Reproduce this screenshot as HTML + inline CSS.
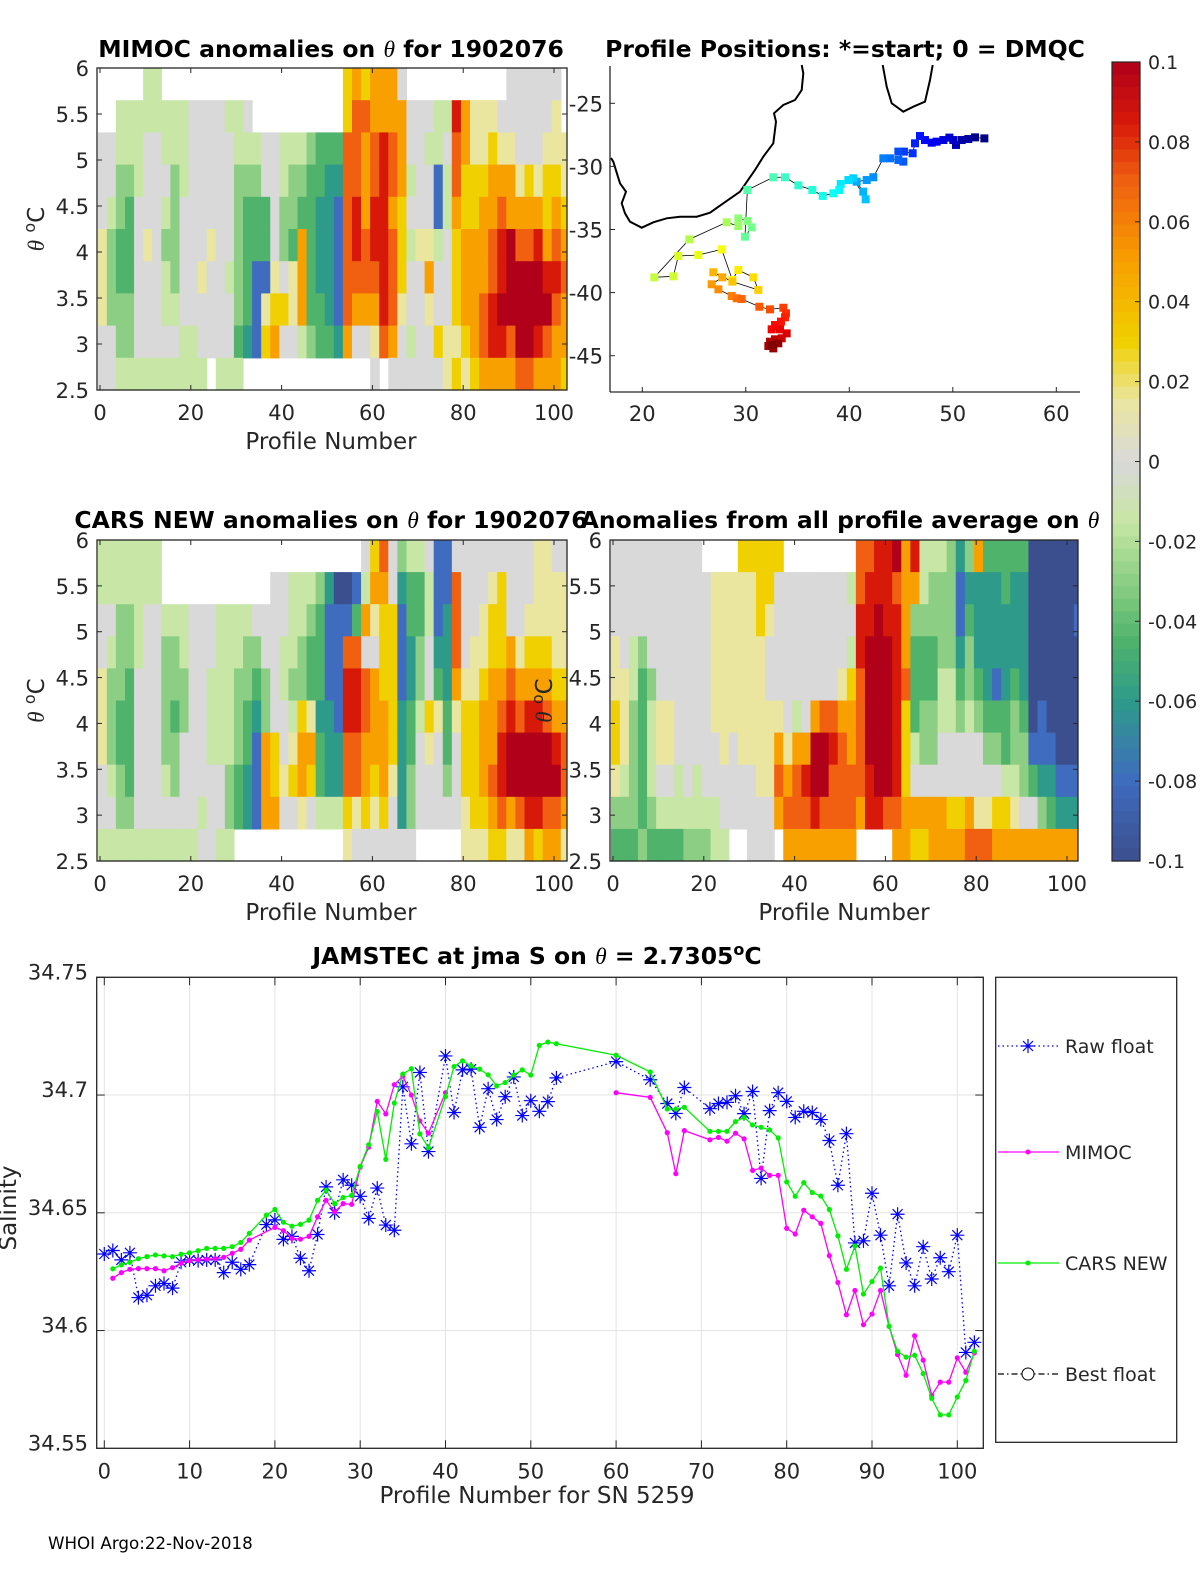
<!DOCTYPE html>
<html><head><meta charset="utf-8"><style>
body{margin:0;background:#fff}
svg{display:block;font-family:"DejaVu Sans","Liberation Sans",sans-serif}
.t{font-size:21px;fill:#262626}
.ti{font-size:23.5px;font-weight:bold;fill:#000}
</style></head><body>
<svg id="fig" width="1200" height="1575" viewBox="0 0 1200 1575">
<g id="gP1"></g>
<g id="gMap"></g>
<g id="gP3"></g>
<g id="gP4"></g>
<g id="gCb"></g>
<g id="gLine"></g>
<text class="ti" x="331" y="57" text-anchor="middle">MIMOC anomalies on <tspan font-style="italic" font-weight="normal" font-family="Liberation Serif,serif">θ</tspan>  for 1902076</text>
<text class="ti" x="845" y="57" text-anchor="middle">Profile Positions: *=start; 0 = DMQC</text>
<text class="ti" x="331" y="528" text-anchor="middle">CARS NEW anomalies on <tspan font-style="italic" font-weight="normal" font-family="Liberation Serif,serif">θ</tspan> for 1902076</text>
<text class="ti" x="840" y="528" text-anchor="middle">Anomalies from all profile average on <tspan font-style="italic" font-weight="normal" font-family="Liberation Serif,serif">θ</tspan></text>
<text class="ti" x="537" y="964" text-anchor="middle">JAMSTEC at jma S on <tspan font-style="italic" font-weight="normal" font-family="Liberation Serif,serif">θ</tspan> = 2.7305<tspan dy="-9" font-size="16">o</tspan><tspan dy="9">C</tspan></text>
<text x="48" y="1549" font-size="16.7" fill="#000">WHOI Argo:22-Nov-2018</text>
</svg>
<script>
const levelCodes = "abcdefghijklm";
const levelVals = [-0.1,-0.08,-0.06,-0.045,-0.03,-0.015,0,0.015,0.03,0.05,0.07,0.085,0.1];

const mimocCols = ["..ggghhhgg","..ggfeeegg",".ffeeddeef",".ffedddeef",".fffgggggf","ffggghgggf","ffgggggggf",".ffgfeffgf",".ffeeeefgf",".fffggggff",".gggggggff",".ggggghggf",".gggghggg.",".ggggggggf",".fggggfggf",".ffeeeeedf",".gfeddddc.","..feddbbb.","..ggddbhi.","..gggghij.","..ffeegig.","..feedhhg.","..fedjjjf.","..eddddde.","..ddcccdd.","..dcccccd.","..dcbbbbc.","iikkkkkkj.","jkkkllkjg.","ikjjjkkjg.","jjkkllkjhg","jjllllllk.","jjkkjkkkjg","gjjjiiihgg",".ggfgfggfg",".gggghgggg",".gfgghjhgg",".ffbbfggig",".fgffggghh",".lkkjiiihi",".jjiijjjih",".hhiijjjji",".hhijjjkkj",".hijjkkllj",".ghjkllmlj","gghjjmmmkj","ggghjkmmmk","gggijkmmmk","ggghjlmmlj","gghiijlmkj","ghhijklkjj","..hhijkjji"];
const carsCols = ["ffgghhhggf","ffgfeeefgf","ffeeeddeef","ffeeddddef","ffffgggggf","ffgggggggf","ffgggggggf","..feeeefgf","..feedeegf","..ffeegggf","..gggggggf","..ggggggfg","..ggfffggg","..fffffggf","..fffffeef","..ffeeedd.","..feeddcc.","..gedcbbb.","..ggeejjj.",".gggggiij.",".ggffgghg.",".fffefhig.",".ffeeijjh.",".feddhjig.",".edddcddf.",".cbbbcccf.",".abbbbccf.",".abkllkkih",".bdkllkkhg","gfjgkkjjig","ijhgjjjihg","kjiiijjjig","ggiiiiihgg","ecbbbccccg","fddccddeeg","fddeefggg.","gffggihgg.","bbbcdhggg.","bbcccddeg.","gkkkjhggg.","gggghiiihh","ggghhiiiih","gghhijjjih","ghiijjjkji","giiijkllki","gggjklmmjh","ggghjkmmkh","gghijlmmlj","hhhijlmmli","hhhijkmmkj","ghhhijlmkj","ghhhijkkjh"];
const avgCols = ["ggghhiihed","gggghhhfed","gggffeeeed","gggeddddde","ggggefffed","ggggghhgfd","ggggghhgfd","gggggggffd","ggggggggfe","gggggggffe",".gggggggfe",".hhhhhggff",".hhhhhhggf",".hhhhhggg.","ihhhhhhgg.","ihhhhhhggg","iiihhhhhgg","iihgghhhgg","igggghjkj.",".ggggghjkj",".ggggfjkkj",".gggggjlkj",".ggggjmmlj",".ggggkmmkj",".ggggklkkj",".ggghjkkkj",".fgfijjkkj","kkllkkkkj.","kllmmmmll.","llmmmmmml.","lllmmmmmk.","mkllllllkj","jjjjkiiijj","ljedddfgji","ffeddeegji","feeddeegjj","feeeffggjj","eeeeffggij","cbbcdeggij","ecdeefggjk","jcccdegghk","dccccdeghk","dcccbdegij","ddcccddfij","dcccdeefhj","dccccdeegj","aaaaaabdgj","aaaaabbcej","aaaaaabcdj","aaaaaaabcj","aaaaaaabcj","aabaaaabcj"];

const cbTicks = [0.1,0.08,0.06,0.04,0.02,0,-0.02,-0.04,-0.06,-0.08,-0.1];
const cbTickLabels = ["0.1","0.08","0.06","0.04","0.02","0","-0.02","-0.04","-0.06","-0.08","-0.1"];

const trackLon = [53.05,52.15,51.5,50.86,50.31,50.05,49.67,49.09,48.44,47.96,47.31,46.83,46.35,46.12,45.28,44.74,45.22,44.74,43.93,43.29,42.32,41.68,40.71,41.35,41.58,40.39,39.91,39.17,39.04,38.46,37.43,36.43,35.08,33.79,32.66,30.15,29.92,30.57,30.18,29.28,29.28,28.15,24.54,21.16,23.0,23.48,25.41,27.67,28.70,29.28,30.73,31.21,28.70,26.86,27.73,26.70,27.35,28.64,29.12,29.60,31.31,32.34,33.63,33.88,33.79,33.40,32.82,32.50,33.30,33.95,33.47,32.82,32.34,32.18,32.66,33.14,32.50];
const trackLat = [-27.78,-27.70,-27.83,-27.91,-28.30,-27.91,-27.72,-27.91,-28.04,-28.12,-27.91,-27.59,-28.17,-28.96,-28.83,-28.83,-29.62,-29.49,-29.36,-29.36,-30.86,-31.08,-31.21,-32.0,-32.61,-30.94,-31.08,-31.39,-31.87,-32.13,-32.34,-31.87,-31.50,-30.86,-30.86,-31.87,-35.57,-34.83,-34.33,-34.12,-34.73,-34.43,-35.78,-38.79,-38.71,-37.10,-37.02,-36.57,-39.0,-38.21,-38.79,-39.79,-39.13,-38.39,-38.79,-39.34,-39.74,-40.27,-40.45,-40.51,-41.12,-41.33,-41.20,-41.64,-41.96,-42.30,-42.57,-42.91,-42.91,-43.23,-43.62,-43.70,-43.89,-44.23,-44.42,-44.02,-44.15];

const rawX = [0,1,2,3,4,5,6,7,8,9,10,11,12,13,14,15,16,17,19,20,21,22,23,24,25,26,27,28,29,30,31,32,33,34,35,36,37,38,40,41,42,43,44,45,46,47,48,49,50,51,52,53,60,64,66,67,68,71,72,73,74,75,76,77,78,79,80,81,82,83,84,85,86,87,88,89,90,91,92,93,94,95,96,97,98,99,100,101,102];
const rawY = [34.6325,34.634,34.630,34.633,34.614,34.615,34.619,34.620,34.618,34.629,34.630,34.6297,34.630,34.630,34.6246,34.629,34.626,34.628,34.645,34.647,34.6387,34.640,34.6307,34.6254,34.6408,34.661,34.650,34.664,34.6617,34.657,34.6476,34.6605,34.6448,34.6426,34.7035,34.6793,34.7096,34.676,34.7166,34.6926,34.7107,34.711,34.6863,34.7027,34.6896,34.6993,34.7077,34.6913,34.6976,34.6931,34.6972,34.7073,34.7142,34.7065,34.6964,34.6922,34.7032,34.6942,34.6964,34.6969,34.6997,34.6921,34.7015,34.6646,34.6934,34.701,34.6973,34.6905,34.6931,34.6926,34.6896,34.6807,34.6617,34.6836,34.6372,34.6381,34.6583,34.6405,34.619,34.6494,34.6287,34.619,34.6356,34.6219,34.6309,34.625,34.6405,34.5907,34.595];
const mimocX = [1,2,3,4,5,6,7,8,9,10,11,12,13,14,15,16,17,20,21,22,23,24,25,26,27,28,29,30,31,32,33,34,35,36,37,38,40,60,64,66,67,68,71,72,73,74,75,76,77,78,79,80,81,82,83,84,85,86,87,88,89,90,91,92,93,94,95,96,97,98,99,100,101,102];
const mimocY = [34.6222,34.6246,34.626,34.6263,34.6263,34.6263,34.6254,34.6267,34.6286,34.6297,34.630,34.6303,34.6305,34.6311,34.6328,34.6345,34.6384,34.6438,34.6424,34.6391,34.6388,34.640,34.6483,34.6553,34.6504,34.6539,34.6536,34.6694,34.6779,34.6973,34.692,34.7044,34.708,34.70,34.689,34.6838,34.701,34.701,34.699,34.684,34.6666,34.6849,34.681,34.682,34.6804,34.6838,34.6814,34.668,34.669,34.6659,34.6659,34.6434,34.641,34.6511,34.6483,34.6455,34.6318,34.6204,34.6067,34.617,34.6025,34.607,34.617,34.6018,34.5898,34.581,34.5978,34.5874,34.5725,34.5781,34.5781,34.5884,34.5823,34.5905];
const carsX = [1,2,3,4,5,6,7,8,9,10,11,12,13,14,15,16,17,19,20,21,22,23,24,25,26,27,28,29,30,31,32,33,34,35,36,37,38,40,41,42,43,44,45,46,47,48,49,50,51,52,53,60,64,66,67,68,71,72,73,74,75,76,77,78,79,80,81,82,83,84,85,86,87,88,89,90,91,92,93,94,95,96,97,98,99,100,101,102];
const carsY = [34.6262,34.6279,34.629,34.6305,34.6314,34.6321,34.6317,34.6314,34.6324,34.633,34.6339,34.6349,34.6349,34.6349,34.6356,34.6374,34.6413,34.649,34.6514,34.646,34.6443,34.6451,34.6469,34.6553,34.6596,34.6539,34.6565,34.6574,34.6697,34.6789,34.693,34.6727,34.6966,34.7089,34.7112,34.6835,34.6776,34.6993,34.7121,34.7145,34.7124,34.711,34.7086,34.7039,34.7053,34.7085,34.7107,34.7085,34.7211,34.7225,34.7218,34.7169,34.7098,34.6941,34.694,34.6948,34.6846,34.6846,34.6846,34.6887,34.6905,34.6873,34.6863,34.6852,34.6818,34.6631,34.657,34.6628,34.6586,34.6571,34.6514,34.6402,34.626,34.6359,34.6155,34.6208,34.6265,34.6018,34.5912,34.5887,34.5895,34.5817,34.5712,34.5642,34.5642,34.5718,34.5788,34.5912];

const NS="http://www.w3.org/2000/svg";
function mk(tag,attrs,parent){const e=document.createElementNS(NS,tag);for(const k in attrs)e.setAttribute(k,attrs[k]);parent.appendChild(e);return e;}
const cmapStops=[[-0.1,[59,79,142]],[-0.08,[63,108,190]],[-0.06,[46,154,138]],[-0.045,[79,179,108]],[-0.03,[140,207,132]],[-0.015,[200,230,165]],[0,[217,217,217]],[0.015,[234,230,160]],[0.03,[240,208,0]],[0.05,[248,160,0]],[0.07,[240,96,16]],[0.085,[215,25,10]],[0.1,[176,0,26]]];
function cmap(v){v=Math.max(-0.1,Math.min(0.1,v));for(let i=0;i<cmapStops.length-1;i++){const a=cmapStops[i],b=cmapStops[i+1];if(v<=b[0]){const t=(v-a[0])/(b[0]-a[0]);const c=a[1].map((x,j)=>Math.round(x+(b[1][j]-x)*t));return `rgb(${c[0]},${c[1]},${c[2]})`;}}return "rgb(176,0,26)";}
function jet(t){const cl=x=>Math.max(0,Math.min(1,x));const r=cl(1.5-Math.abs(4*t-3)),g=cl(1.5-Math.abs(4*t-2)),b=cl(1.5-Math.abs(4*t-1));return `rgb(${Math.round(r*255)},${Math.round(g*255)},${Math.round(b*255)})`;}

function heatPanel(g,cols,bx0,bx1,by0,by1,p0x,ppx,xlab,ylabSide,name){
  const rows=10,rh=(by1-by0)/rows;
  cols.forEach((s,k)=>{
    for(let r=0;r<rows;r++){
      const ch=s[r]; if(!ch||ch===".")continue;
      const v=levelVals[levelCodes.indexOf(ch)];
      let x0=p0x+ppx*(2*k-0.5), x1=p0x+ppx*(2*k+1.5);
      x0=Math.max(x0,bx0+1); x1=Math.min(x1,bx1-1); if(x1<=x0)continue;
      const c=mk("rect",{x:x0,y:by0+r*rh,width:x1-x0+0.6,height:rh+0.6,fill:cmap(v)},g);
      
      
    }
  });
  const box=mk("rect",{x:bx0,y:by0,width:bx1-bx0,height:by1-by0,fill:"none",stroke:"#262626","stroke-width":1.3},g);
  
  
  const yt=[6,5.5,5,4.5,4,3.5,3,2.5];
  yt.forEach(v=>{const y=by0+(6-v)/3.5*(by1-by0);
    mk("line",{x1:bx0,x2:bx0+5,y1:y,y2:y,stroke:"#262626"},g);mk("line",{x1:bx1,x2:bx1-5,y1:y,y2:y,stroke:"#262626"},g);
    const t=mk("text",{x:bx0-8,y:y+8,"text-anchor":"end",class:"t"},g);t.textContent=String(v);
    
    });
  [0,20,40,60,80,100].forEach(p=>{const x=p0x+ppx*p;
    mk("line",{x1:x,x2:x,y1:by1,y2:by1-5,stroke:"#262626"},g);mk("line",{x1:x,x2:x,y1:by0,y2:by0+5,stroke:"#262626"},g);
    const t=mk("text",{x:x,y:by1+30,"text-anchor":"middle",class:"t"},g);t.textContent=String(p);
    
    });
  const xl=mk("text",{x:(p0x+p0x+ppx*100)/2+4,y:by1+59,"text-anchor":"middle",class:"t",style:"font-size:23px"},g);xl.textContent="Profile Number";
  
  
  const yl=mk("text",{transform:`translate(${ylabSide},${(by0+by1)/2}) rotate(-90)`,"text-anchor":"middle",class:"t",style:"font-size:23px"},g);
  yl.innerHTML='<tspan font-style="italic" font-family="Liberation Serif,serif">θ</tspan> <tspan dy="-9" style="font-size:16px">o</tspan><tspan dy="9">C</tspan>';
  
  
}
heatPanel(document.getElementById("gP1"),mimocCols,97,567,68,390,100,4.54,true,44,"mimoc");
heatPanel(document.getElementById("gP3"),carsCols,97,567,540,861,100,4.54,true,44,"cars");
heatPanel(document.getElementById("gP4"),avgCols,610,1078,540,861,613,4.54,true,552,"average");

// Map
(function(){
  const g=document.getElementById("gMap");
  const lx=lon=>642.3+10.35*(lon-20), ly=lat=>103.3+12.62*(-25-lat);
  mk("polyline",{points:"801.7,65 803.3,73.3 801.7,90 795,100 783.3,105 774,113.3 776,121.7 773.3,143.3 763.3,156.7 755,170 740,191.7 723.3,203.3 710,212.7 696.7,216.7 680,216.7 666.7,218.3 653.3,222.3 641.7,227.7 630,221.7 625,213.3 621.7,203.3 626,191.7 620,183.3 613.3,161.7 611,158",fill:"none",stroke:"#000","stroke-width":2,},g);
  mk("polyline",{points:"882.7,65 886.7,86.7 891.7,103.3 903.3,111.7 913.3,106.7 925,101.7 930,80 932.7,65",fill:"none",stroke:"#000","stroke-width":2,},g);
  const pts=trackLon.map((lo,i)=>lx(lo)+","+ly(trackLat[i])).join(" ");
  mk("polyline",{points:pts,fill:"none",stroke:"#000","stroke-width":0.8,},g);
  trackLon.forEach((lo,i)=>{const r=mk("rect",{x:lx(lo)-4,y:ly(trackLat[i])-4,width:8,height:8,fill:jet(i/(trackLon.length-1))},g);
    
    });
  mk("line",{x1:610,x2:610,y1:66,y2:392,stroke:"#262626","stroke-width":1.3},g);
  mk("line",{x1:610,x2:1080,y1:392,y2:392,stroke:"#262626","stroke-width":1.3},g);
  [-25,-30,-35,-40,-45].forEach(v=>{const y=ly(v);mk("line",{x1:610,x2:615,y1:y,y2:y,stroke:"#262626"},g);
    const t=mk("text",{x:603,y:y+8,"text-anchor":"end",class:"t"},g);t.textContent=String(v);
    
    });
  [20,30,40,50,60].forEach(v=>{const x=lx(v);mk("line",{x1:x,x2:x,y1:392,y2:387,stroke:"#262626"},g);
    const t=mk("text",{x:x,y:421,"text-anchor":"middle",class:"t"},g);t.textContent=String(v);
    
    });
})();

// Colorbar
(function(){
  const g=document.getElementById("gCb");
  const y0=62,y1=861,x0=1112,w=28;
  const n=64;
  for(let i=0;i<n;i++){const v=0.1-(i+0.5)*0.2/n;
    const r=mk("rect",{x:x0,y:y0+i*(y1-y0)/n,width:w,height:(y1-y0)/n+0.6,fill:cmap(v)},g);
    
    }
  mk("rect",{x:x0,y:y0,width:w,height:y1-y0,fill:"none",stroke:"#262626","stroke-width":1.2},g);
  cbTicks.forEach((v,i)=>{const y=y0+(0.1-v)/0.2*(y1-y0);
    mk("line",{x1:x0+w-5,x2:x0+w,y1:y,y2:y,stroke:"#262626"},g);
    const t=mk("text",{x:1148,y:y+7,class:"t",style:"font-size:19px"},g);t.textContent=cbTickLabels[i];
    
    });
})();

// Line chart
(function(){
  const g=document.getElementById("gLine");
  const X0=96.7,X1=983.3,Y0=977.3,Y1=1448.3;
  const xs=v=>104.3+8.53*v, ys=v=>Y1-(v-34.55)/0.2*(Y1-Y0);
  for(let v=0;v<=100;v+=10){mk("line",{x1:xs(v),x2:xs(v),y1:Y0,y2:Y1,stroke:"#e3e3e3"},g);}
  [34.55,34.6,34.65,34.7,34.75].forEach(v=>mk("line",{x1:X0,x2:X1,y1:ys(v),y2:ys(v),stroke:"#e3e3e3"},g));
  function segs(X,Y){const out=[];let cur=[];X.forEach((x,i)=>{if(cur.length&&x-X[i-1]>15){out.push(cur);cur=[];}cur.push(xs(x)+","+ys(Y[i]));});out.push(cur);return out;}
  segs(rawX,rawY).forEach(s=>mk("polyline",{points:s.join(" "),fill:"none",stroke:"#0000ff","stroke-width":1.3,"stroke-dasharray":"1.5 3",},g));
  function star(x,y,gg){const s=7;const d=`M${x-s},${y}H${x+s}M${x},${y-s}V${y+s}M${x-5},${y-5}L${x+5},${y+5}M${x-5},${y+5}L${x+5},${y-5}`;return mk("path",{d:d,stroke:"#0000ff","stroke-width":1.2,fill:"none"},gg);}
  rawX.forEach((x,i)=>{const p=star(xs(x),ys(rawY[i]),g);
    
    });
  segs(mimocX,mimocY).forEach(s=>mk("polyline",{points:s.join(" "),fill:"none",stroke:"#ff00ff","stroke-width":1.3,},g));
  mimocX.forEach((x,i)=>{const c=mk("circle",{cx:xs(x),cy:ys(mimocY[i]),r:2.6,fill:"#ff00ff"},g);
    
    });
  segs(carsX,carsY).forEach(s=>mk("polyline",{points:s.join(" "),fill:"none",stroke:"#00ee00","stroke-width":1.3,},g));
  carsX.forEach((x,i)=>{const c=mk("circle",{cx:xs(x),cy:ys(carsY[i]),r:2.6,fill:"#00ee00"},g);
    
    });
  mk("rect",{x:X0,y:Y0,width:X1-X0,height:Y1-Y0,fill:"none",stroke:"#262626","stroke-width":1.3,},g);
  for(let v=0;v<=100;v+=10){const x=xs(v);mk("line",{x1:x,x2:x,y1:Y1,y2:Y1-8,stroke:"#262626"},g);mk("line",{x1:x,x2:x,y1:Y0,y2:Y0+8,stroke:"#262626"},g);
    const t=mk("text",{x:x,y:Y1+30,"text-anchor":"middle",class:"t"},g);t.textContent=String(v);
    
    }
  [[34.55,"34.55"],[34.6,"34.6"],[34.65,"34.65"],[34.7,"34.7"],[34.75,"34.75"]].forEach(a=>{const y=ys(a[0]);
    mk("line",{x1:X0,x2:X0+8,y1:y,y2:y,stroke:"#262626"},g);mk("line",{x1:X1,x2:X1-8,y1:y,y2:y,stroke:"#262626"},g);
    const t=mk("text",{x:88,y:y+2,"text-anchor":"end",class:"t"},g);t.textContent=a[1];
    
    });
  const xl=mk("text",{x:537,y:1503,"text-anchor":"middle",class:"t",style:"font-size:23px"},g);xl.textContent="Profile Number for SN 5259";
  
  
  const yl=mk("text",{transform:"translate(16,1208) rotate(-90)","text-anchor":"middle",class:"t",style:"font-size:23px"},g);yl.textContent="Salinity";
  
  
  const L=mk("g",{},g);
  
  
  mk("rect",{x:995.7,y:977.3,width:181,height:465,fill:"#fff",stroke:"#262626","stroke-width":1.3},L);
  const ents=[["Raw float",1046,"#0000ff","1.5 3","star"],["MIMOC",1152,"#ff00ff","","dot"],["CARS NEW",1263,"#00ee00","","dot"],["Best float",1374,"#000","6 3 1.5 3","circ"]];
  ents.forEach(e=>{const eg=mk("g",{},L);
    
    
    mk("line",{x1:998,x2:1059,y1:e[1],y2:e[1],stroke:e[2],"stroke-width":1.2,"stroke-dasharray":e[3]},eg);
    if(e[4]==="star")star(1028,e[1],eg);
    if(e[4]==="dot")mk("circle",{cx:1028,cy:e[1],r:2.5,fill:e[2]},eg);
    if(e[4]==="circ")mk("circle",{cx:1028,cy:e[1],r:6,fill:"#fff",stroke:"#000"},eg);
    const t=mk("text",{x:1065,y:e[1]+7,class:"t",style:"font-size:19px"},eg);t.textContent=e[0];});
})();
</script>
</body></html>
